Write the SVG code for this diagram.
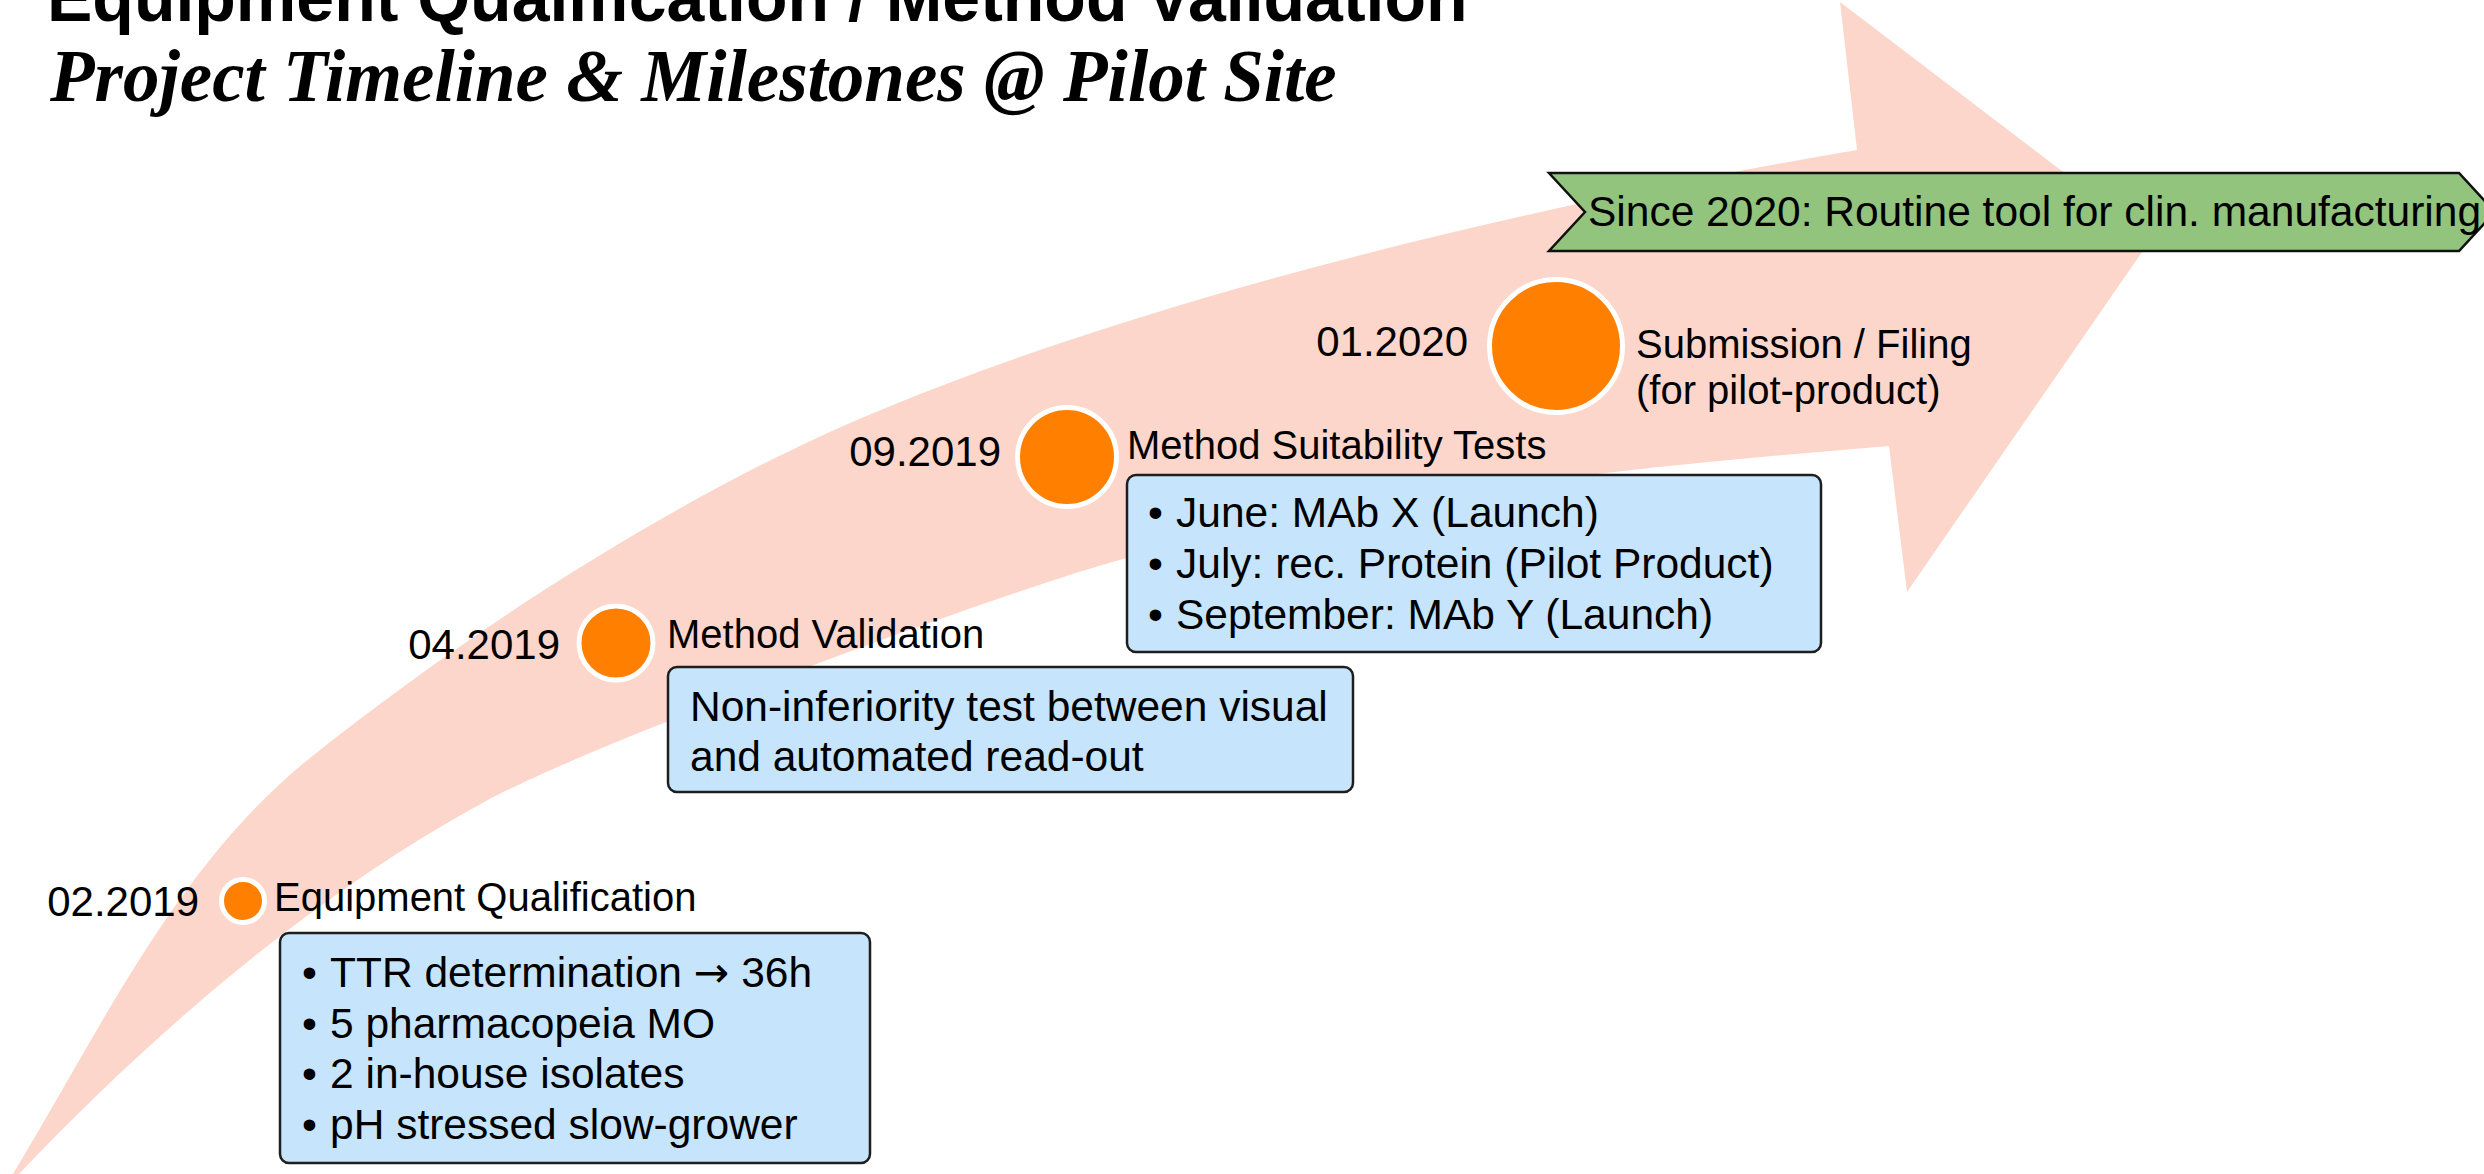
<svg xmlns="http://www.w3.org/2000/svg" width="2484" height="1174" viewBox="0 0 2484 1174">
  <style>
    .sans { font-family: "Liberation Sans", Arial, sans-serif; fill: #000; }
    .date { font-size: 42px; text-anchor: end; }
    .label { font-size: 40px; }
    .boxtext { font-size: 42.5px; }
    .box { fill: #C6E5FC; stroke: #1E1E1E; stroke-width: 2.5; }
    .dot { fill: #FF8000; stroke: #FFFFFF; stroke-width: 5; }
    .banner { fill: #93C47D; stroke: #111; stroke-width: 2.5; }
    .arrowglyph { font-family: "DejaVu Sans", sans-serif; }
  </style>

  <rect width="2484" height="1174" fill="#FFFFFF"/>

  <!-- Curved timeline arrow in the background -->
  <g id="timeline-arrow">
    <path fill="#FDD6CB" d="M 13,1174
      C 101,1028.6 177.2,864.3 310,758
      C 466.2,633 673.2,499 857,420
      C 1132.7,301.5 1516.8,208 1857,150
      L 1840,2 L 2151,239 L 1907,592 L 1889,446
      C 1632.8,467.1 1375.8,493.2 1127,558
      C 1010.8,588.2 591.4,743.6 486,801
      C 311.3,896.1 156.3,1029.9 19,1174 Z"/>
  </g>

  <!-- Heading -->
  <g id="title">
    <text x="47" y="21" font-family="'Liberation Sans', Arial, sans-serif" font-weight="bold" font-size="68">Equipment Qualification / Method Validation</text>
    <text x="50" y="101" font-family="'Liberation Serif', 'Times New Roman', serif" font-weight="bold" font-style="italic" font-size="73">Project Timeline &amp; Milestones @ Pilot Site</text>
  </g>

  <!-- Routine use banner -->
  <g id="routine-banner">
    <polygon class="banner" points="1549,173 2459,173 2495,212 2459,251 1549,251 1585,212"/>
    <text class="sans" x="1588" y="226" font-size="42.5">Since 2020: Routine tool for clin. manufacturing</text>
  </g>

  <!-- 02.2019 Equipment Qualification -->
  <g id="milestone-equipment-qualification">
    <circle class="dot" cx="243" cy="901" r="21.5"/>
    <text class="sans date" x="199" y="916">02.2019</text>
    <text class="sans label" x="274" y="911">Equipment Qualification</text>
    <rect class="box" x="280" y="933" width="590" height="230" rx="9"/>
    <g class="sans boxtext">
      <text x="302" y="987">•</text><text x="330" y="987">TTR determination <tspan class="arrowglyph">→</tspan> 36h</text>
      <text x="302" y="1038">•</text><text x="330" y="1038">5 pharmacopeia MO</text>
      <text x="302" y="1088">•</text><text x="330" y="1088">2 in-house isolates</text>
      <text x="302" y="1139">•</text><text x="330" y="1139">pH stressed slow-grower</text>
    </g>
  </g>

  <!-- 04.2019 Method Validation -->
  <g id="milestone-method-validation">
    <circle class="dot" cx="616" cy="643" r="37"/>
    <text class="sans date" x="560" y="659">04.2019</text>
    <text class="sans label" x="667" y="648">Method Validation</text>
    <rect class="box" x="668" y="667" width="685" height="125" rx="9"/>
    <g class="sans boxtext">
      <text x="690" y="721">Non-inferiority test between visual</text>
      <text x="690" y="771">and automated read-out</text>
    </g>
  </g>

  <!-- 09.2019 Method Suitability Tests -->
  <g id="milestone-method-suitability">
    <circle class="dot" cx="1067" cy="457" r="49.5"/>
    <text class="sans date" x="1001" y="466">09.2019</text>
    <text class="sans label" x="1127" y="459">Method Suitability Tests</text>
    <rect class="box" x="1127" y="475" width="694" height="177" rx="9"/>
    <g class="sans boxtext">
      <text x="1148" y="527">•</text><text x="1176" y="527">June: MAb X (Launch)</text>
      <text x="1148" y="578">•</text><text x="1176" y="578">July: rec. Protein (Pilot Product)</text>
      <text x="1148" y="629">•</text><text x="1176" y="629">September: MAb Y (Launch)</text>
    </g>
  </g>

  <!-- 01.2020 Submission / Filing -->
  <g id="milestone-submission">
    <circle class="dot" cx="1556" cy="346" r="66.5"/>
    <text class="sans date" x="1468" y="356">01.2020</text>
    <text class="sans label" x="1636" y="358">Submission / Filing</text>
    <text class="sans label" x="1636" y="404">(for pilot-product)</text>
  </g>
</svg>
